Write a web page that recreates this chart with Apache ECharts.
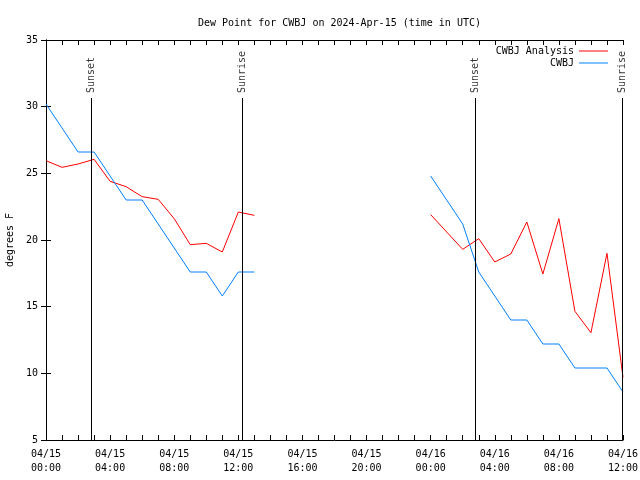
<!DOCTYPE html>
<html>
<head>
<meta charset="utf-8">
<script src="https://cdn.jsdelivr.net/npm/echarts@6/dist/echarts.min.js"></script>
<style>html,body{margin:0;padding:0;background:#fff}#c{width:640px;height:480px}</style>
</head>
<body>
<div id="c"></div>
<script>
// hours since 2024-04-15 00:00 UTC
const hours = [0,1,2,3,4,5,6,7,8,9,10,11,12,13,24,25,26,27,28,29,30,31,32,33,34,35,36];
const analysis = [25.95,25.45,25.7,26.05,24.4,24.0,23.25,23.05,21.6,19.65,19.75,19.1,22.1,21.85,
                  21.9,20.6,19.3,20.1,18.35,18.95,21.35,17.45,21.6,14.65,13.05,19.0,9.7];
const observed = [30.2,28.4,26.6,26.6,24.8,23.0,23.0,21.2,19.4,17.6,17.6,15.8,17.6,17.6,
                  24.8,23.0,21.2,17.6,15.8,14.0,14.0,12.2,12.2,10.4,10.4,10.4,8.6];
const sunEvents = [
  {name:'Sunset', hour:2.84},
  {name:'Sunrise', hour:12.25},
  {name:'Sunset', hour:26.81},
  {name:'Sunrise', hour:35.94}
];
const sunLineTop = 30.65;

function toSeries(vals){
  const out = [];
  for (let i=0;i<hours.length;i++){
    if (i>0 && hours[i]-hours[i-1] > 1) out.push([ (hours[i]+hours[i-1])/2, null ]);
    out.push([hours[i], vals[i]]);
  }
  return out;
}
const FONT = 'DejaVu Sans Mono';
const chart = echarts.init(document.getElementById('c'), null, {renderer:'canvas'});
function fmtX(v){
  if (v % 4 !== 0) return '';
  const day = 15 + Math.floor(v/24);
  const hh = v % 24;
  return '04/' + day + '\n' + (hh<10?'0':'') + hh + ':00';
}
const axisCommon = {
  axisLine:{show:true, lineStyle:{color:'#000', width:1}},
  axisTick:{show:true, inside:true, length:5, lineStyle:{color:'#000', width:1}},
  splitLine:{show:false}
};
chart.setOption({
  animation:false,
  backgroundColor:'#fff',
  textStyle:{fontFamily:FONT},
  title:{
    text:'Dew Point for CWBJ on 2024-Apr-15 (time in UTC)',
    left:193, top:13,
    textStyle:{fontFamily:FONT, fontSize:10, fontWeight:'normal', color:'#000'}
  },
  legend:{
    data:[{name:'CWBJ Analysis', icon:'rect'},{name:'CWBJ', icon:'rect'}],
    orient:'vertical', align:'right',
    right:27, top:41,
    itemWidth:29, itemHeight:1, itemGap:2,
    textStyle:{fontFamily:FONT, fontSize:10, color:'#000'}
  },
  grid:{left:46, right:17, top:40, bottom:40, containLabel:false, outerBoundsMode:'none'},
  xAxis:[
    Object.assign({type:'value', min:0, max:36, interval:1, position:'bottom',
      axisLabel:{show:true, formatter:fmtX, interval:0, margin:7, color:'#000', fontFamily:FONT, fontSize:10, lineHeight:14}}, axisCommon),
    Object.assign({type:'value', min:0, max:36, interval:1, position:'top',
      axisLabel:{show:false}}, axisCommon)
  ],
  yAxis:[
    Object.assign({type:'value', min:5, max:35, interval:5, position:'left',
      name:'degrees F', nameLocation:'middle', nameGap:31,
      nameTextStyle:{fontFamily:FONT, fontSize:10, color:'#000'},
      axisLabel:{color:'#000', fontFamily:FONT, fontSize:10, margin:8}}, axisCommon),
    Object.assign({type:'value', min:5, max:35, interval:5, position:'right',
      axisLabel:{show:false}}, axisCommon)
  ],
  series:[
    {name:'CWBJ Analysis', type:'line', data:toSeries(analysis), showSymbol:false, symbol:'none',
     connectNulls:false, color:'#ff0000', lineStyle:{color:'#ff0000', width:1}},
    {name:'CWBJ', type:'line', data:toSeries(observed), showSymbol:false, symbol:'none',
     connectNulls:false, color:'#0080ff', lineStyle:{color:'#0080ff', width:1}},
    {name:'sun', type:'scatter', symbolSize:0, silent:true,
     data:sunEvents.map(e=>({value:[e.hour, sunLineTop], name:e.name})),
     label:{show:true, formatter:p=>p.name, position:[0,-5], rotate:90, align:'left', verticalAlign:'middle',
       fontFamily:FONT, fontSize:10, color:'#000'},
     markLine:{silent:true, symbol:'none', label:{show:false},
       lineStyle:{color:'#000', width:1, type:'solid'},
       data:sunEvents.map(e=>[{coord:[e.hour,5]},{coord:[e.hour,sunLineTop]}])}
    }
  ]
});
</script>
</body>
</html>
